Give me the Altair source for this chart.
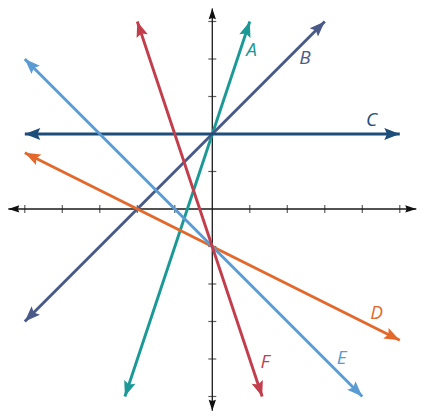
import math
import altair as alt
import pandas as pd

# ---- data ----
line_names = ["A", "B", "C", "D", "E", "F"]
x_start = [-2.33, -5.0, -5.0, -5.0, -5.0, -2.0]
y_start = [-5.0, -3.0, 2.0, 1.5, 4.0, 5.0]
x_end = [1.0, 3.0, 5.0, 5.0, 4.0, 1.33]
y_end = [5.0, 5.0, 2.0, -3.5, -5.0, -5.0]
line_colors = ["#1c9896", "#4a5a88", "#1d4d79", "#e2692b", "#5a9bd3", "#c13f4d"]

label_x = [1.05, 2.47, 4.25, 4.38, 3.45, 1.41]
label_y = [4.24, 4.02, 2.37, -2.78, -3.97, -4.07]

tick_values = [-5, -4, -3, -2, -1, 1, 2, 3, 4, 5]

x_axis_ext = [-5.44, 5.44]
y_axis_ext = [-5.38, 5.35]

x_domain = [-5.448, 5.459]
y_domain = [-5.387, 5.36]


def angle_of(dx, dy):
    return math.degrees(math.atan2(dx, dy)) % 360


lines_df = pd.DataFrame({
    "name": line_names, "x": x_start, "y": y_start, "x2": x_end, "y2": y_end,
})

arrow_rows = []
for n, xs, ys, xe, ye in zip(line_names, x_start, y_start, x_end, y_end):
    arrow_rows.append({"name": n, "x": xe, "y": ye, "angle": angle_of(xe - xs, ye - ys)})
    arrow_rows.append({"name": n, "x": xs, "y": ys, "angle": angle_of(xs - xe, ys - ye)})
arrows_df = pd.DataFrame(arrow_rows)

labels_df = pd.DataFrame({"name": line_names, "x": label_x, "y": label_y})

axes_df = pd.DataFrame({
    "x": [x_axis_ext[0], 0.0], "y": [0.0, y_axis_ext[0]],
    "x2": [x_axis_ext[1], 0.0], "y2": [0.0, y_axis_ext[1]],
})
axis_arrows_df = pd.DataFrame({
    "x": [x_axis_ext[0], x_axis_ext[1], 0.0, 0.0],
    "y": [0.0, 0.0, y_axis_ext[0], y_axis_ext[1]],
    "angle": [270.0, 90.0, 180.0, 0.0],
})
xticks_df = pd.DataFrame({"x": tick_values, "y": [0.0] * len(tick_values)})
yticks_df = pd.DataFrame({"x": [0.0] * len(tick_values), "y": tick_values})

xs = alt.Scale(domain=x_domain, nice=False, zero=False)
ys = alt.Scale(domain=y_domain, nice=False, zero=False)
color = alt.Color("name:N", scale=alt.Scale(domain=line_names, range=line_colors), legend=None)

X = lambda f="x": alt.X(f"{f}:Q", scale=xs, axis=None)
Y = lambda f="y": alt.Y(f"{f}:Q", scale=ys, axis=None)

arrow_shape = "M0,0 L0.38,1 L0,0.82 L-0.38,1 Z"
axis_arrow_shape = "M0,0 L0.33,1 L0,0.88 L-0.33,1 Z"

axes = alt.Chart(axes_df).mark_rule(color="#1a1a1a", strokeWidth=1.3).encode(
    x=X(), y=Y(), x2="x2:Q", y2="y2:Q")
axis_arrows = alt.Chart(axis_arrows_df).mark_point(
    shape=axis_arrow_shape, filled=True, color="#111111", opacity=1, size=484).encode(
    x=X(), y=Y(), angle=alt.Angle("angle:Q", scale=None))
xticks = alt.Chart(xticks_df).mark_tick(
    orient="vertical", color="#1a1a1a", size=8, thickness=1.2).encode(x=X(), y=Y())
yticks = alt.Chart(yticks_df).mark_tick(
    orient="horizontal", color="#1a1a1a", size=8, thickness=1.2).encode(x=X(), y=Y())

lines = alt.Chart(lines_df).mark_rule(strokeWidth=2.9).encode(
    x=X(), y=Y(), x2="x2:Q", y2="y2:Q", color=color)
arrows = alt.Chart(arrows_df).mark_point(
    shape=arrow_shape, filled=True, opacity=1, size=960).encode(
    x=X(), y=Y(), angle=alt.Angle("angle:Q", scale=None), color=color)
labels = alt.Chart(labels_df).mark_text(
    font="Open Sans", fontSize=19, fontStyle="italic", align="center", baseline="middle").encode(
    x=X(), y=Y(), text="name:N", color=color)

chart = alt.layer(axes, xticks, yticks, axis_arrows, lines, arrows, labels).properties(
    width=409, height=403, padding=0, autosize="none", background="white"
).configure_view(stroke=None)

chart.save("out.html", embed_options={"renderer": "svg", "actions": False})
